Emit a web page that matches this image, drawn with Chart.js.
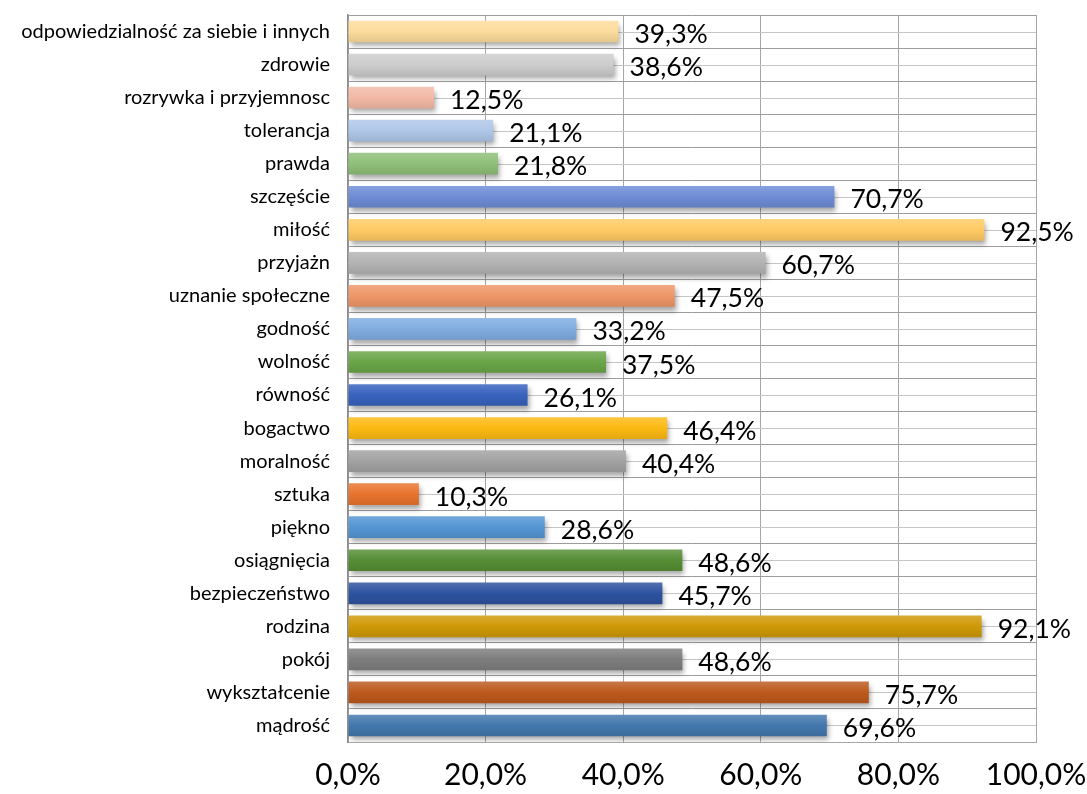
<!DOCTYPE html>
<html>
<head>
<meta charset="utf-8">
<script src="https://cdn.jsdelivr.net/npm/chart.js@4/dist/chart.umd.min.js"></script>
<style>
    html, body { margin: 0; padding: 0; background: #fff; }
    #wrap { width: 1087px; height: 794px; }
</style>
</head>
<body>
<div id="wrap"><canvas id="valuesChart"></canvas></div>
<script>
// Values chart - share of answers per value (top to bottom)

const categories = [
    'odpowiedzialność za siebie i innych', 'zdrowie', 'rozrywka i przyjemnosc', 'tolerancja',
    'prawda', 'szczęście', 'miłość', 'przyjażn', 'uznanie społeczne', 'godność', 'wolność',
    'równość', 'bogactwo', 'moralność', 'sztuka', 'piękno', 'osiągnięcia', 'bezpieczeństwo',
    'rodzina', 'pokój', 'wykształcenie', 'mądrość'
];
const percentValues = [
    39.3, 38.6, 12.5, 21.1, 21.8, 70.7, 92.5, 60.7, 47.5, 33.2, 37.5,
    26.1, 46.4, 40.4, 10.3, 28.6, 48.6, 45.7, 92.1, 48.6, 75.7, 69.6
];
const barColors = [
    '#FCDC9C', '#CDCDCD', '#F3B9A6', '#AFC7E8', '#8EBF78', '#6E8BD5', '#FFCA64',
    '#B3B3B3', '#EF9668', '#80ACE0', '#6AA547', '#3762BD', '#FCBA12', '#A2A2A2',
    '#E8742D', '#5495D3', '#558D34', '#2D529F', '#CF9907', '#7D7D7D', '#BC591D', '#4378AD'
];
const xTicks = [0, 20, 40, 60, 80, 100];

function shade(hex, amt) {
    // amt > 0 mixes with white, amt < 0 with black
    const n = parseInt(hex.slice(1), 16);
    let r = n >> 16, g = (n >> 8) & 255, b = n & 255;
    const t = amt > 0 ? 255 : 0, p = Math.abs(amt);
    r = Math.round(r + (t - r) * p);
    g = Math.round(g + (t - g) * p);
    b = Math.round(b + (t - b) * p);
    return `rgb(${r},${g},${b})`;
}

const BAR_PCT = 0.8, CAT_PCT = 0.82;

function barFill(context) {
    const base = barColors[context.dataIndex];
    const chart = context.chart;
    const y = chart.scales.y;
    if (!chart.chartArea || !y) return base;
    const mid = y.getPixelForValue(context.dataIndex);
    const half = (y.height / categories.length) * BAR_PCT * CAT_PCT / 2;
    if (!isFinite(mid)) return base;
    const g = chart.ctx.createLinearGradient(0, mid - half, 0, mid + half);
    g.addColorStop(0, shade(base, 0.18));
    g.addColorStop(0.5, base);
    g.addColorStop(1, shade(base, -0.1));
    return g;
}

// soft shadow under bars
const barShadow = {
    id: 'barShadow',
    beforeDatasetsDraw(chart) {
        const c = chart.ctx;
        c.save();
        c.shadowColor = 'rgba(0,0,0,0.35)';
        c.shadowBlur = 5;
        c.shadowOffsetX = 2;
        c.shadowOffsetY = 4;
    },
    afterDatasetsDraw(chart) {
        chart.ctx.restore();
    }
};

// lighter grid line through the middle of every category band
const midLines = {
    id: 'midLines',
    beforeDatasetsDraw(chart) {
        const c = chart.ctx, area = chart.chartArea, y = chart.scales.y;
        c.save();
        c.strokeStyle = '#C4C4C4';
        c.lineWidth = 1;
        categories.forEach((_, i) => {
            const py = Math.round(y.getPixelForValue(i)) + 0.5;
            c.beginPath();
            c.moveTo(area.left, py);
            c.lineTo(area.right, py);
            c.stroke();
        });
        c.restore();
    }
};

// value labels to the right of each bar
const valueLabels = {
    id: 'valueLabels',
    afterDatasetsDraw(chart) {
        const c = chart.ctx;
        const meta = chart.getDatasetMeta(0);
        c.save();
        c.font = '26.5px Lato, "Open Sans", sans-serif';
        c.fillStyle = '#000';
        c.textAlign = 'left';
        c.textBaseline = 'middle';
        meta.data.forEach((bar, i) => {
            const txt = percentValues[i].toFixed(1).replace('.', ',') + '%';
            c.fillText(txt, bar.x + 16, bar.y + 3);
        });
        c.restore();
    }
};

document.addEventListener('DOMContentLoaded', function() {
    const ctx = document.getElementById('valuesChart');

    new Chart(ctx, {
        type: 'bar',
        data: {
            labels: categories,
            datasets: [{
                data: percentValues,
                backgroundColor: barFill,
                borderWidth: 0,
                barPercentage: BAR_PCT,
                categoryPercentage: CAT_PCT
            }]
        },
        options: {
            indexAxis: 'y',
            responsive: true,
            maintainAspectRatio: false,
            animation: false,
            layout: {
                padding: { top: 15, right: 51, bottom: 0, left: 0 }
            },
            plugins: {
                legend: { display: false },
                tooltip: { enabled: false }
            },
            scales: {
                x: {
                    min: 0,
                    max: 100,
                    afterBuildTicks: function(scale) {
                        scale.ticks = xTicks.map(v => ({ value: v }));
                    },
                    afterFit: function(scale) {
                        scale.height = 52;
                        scale.paddingLeft = 0;
                        scale.paddingRight = 0;
                    },
                    ticks: {
                        padding: 15,
                        color: '#000',
                        font: { family: 'Lato, "Open Sans", sans-serif', size: 30 },
                        callback: function(value) {
                            return value.toFixed(1).replace('.', ',') + '%';
                        }
                    },
                    grid: {
                        color: '#A6A6A6',
                        drawTicks: false
                    },
                    border: { color: '#A6A6A6' }
                },
                y: {
                    afterFit: function(scale) {
                        scale.width = 348;
                        scale.paddingTop = 0;
                        scale.paddingBottom = 0;
                    },
                    ticks: {
                        padding: 18,
                        color: '#000',
                        autoSkip: false,
                        font: { family: 'Lato, "Open Sans", sans-serif', size: 20 }
                    },
                    grid: {
                        offset: true,
                        color: '#9C9C9C',
                        drawTicks: false
                    },
                    border: { color: '#8C8C8C', width: 1.5 }
                }
            }
        },
        plugins: [midLines, barShadow, valueLabels]
    });
});
</script>
</body>
</html>
